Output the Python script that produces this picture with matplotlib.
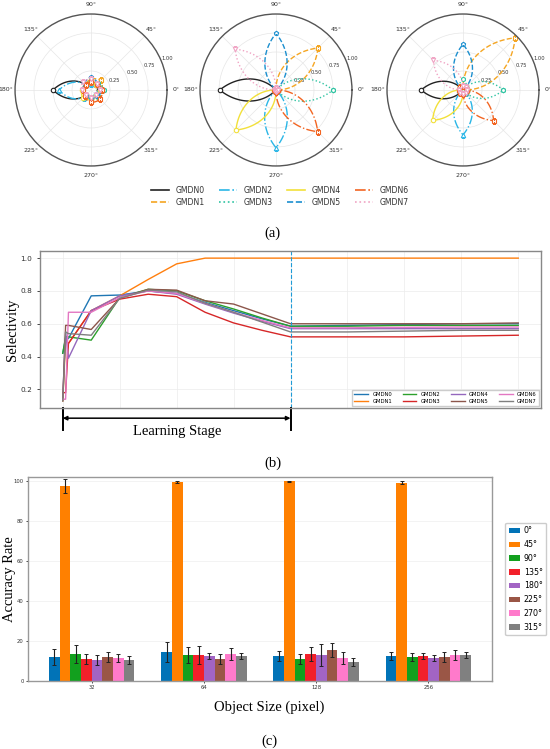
import numpy as np
import matplotlib
matplotlib.use('Agg')
import matplotlib.pyplot as plt
import matplotlib.transforms as mtransforms

# ---------------- data ----------------
names = ['GMDN0', 'GMDN1', 'GMDN2', 'GMDN3', 'GMDN4', 'GMDN5', 'GMDN6', 'GMDN7']

# polar panels (a): response of each GMDN at the 8 directions
directions = [0, 45, 90, 135, 180, 225, 270, 315]
resp_early = [
    [0.10, 0.10, 0.10, 0.10, 0.50, 0.10, 0.10, 0.10],
    [0.14, 0.18, 0.14, 0.10, 0.10, 0.10, 0.12, 0.14],
    [0.10, 0.12, 0.08, 0.10, 0.42, 0.14, 0.10, 0.08],
    [0.17, 0.13, 0.12, 0.10, 0.10, 0.10, 0.12, 0.13],
    [0.12, 0.10, 0.10, 0.10, 0.12, 0.15, 0.12, 0.10],
    [0.14, 0.12, 0.17, 0.12, 0.10, 0.10, 0.10, 0.12],
    [0.14, 0.12, 0.10, 0.10, 0.10, 0.12, 0.16, 0.17],
    [0.12, 0.12, 0.14, 0.15, 0.12, 0.10, 0.10, 0.10],
]
resp_mid = [
    [0.02, 0.02, 0.02, 0.02, 0.74, 0.02, 0.02, 0.02],
    [0.02, 0.78, 0.02, 0.02, 0.02, 0.02, 0.02, 0.02],
    [0.02, 0.02, 0.02, 0.02, 0.02, 0.02, 0.76, 0.02],
    [0.75, 0.02, 0.02, 0.02, 0.02, 0.02, 0.02, 0.02],
    [0.02, 0.02, 0.02, 0.02, 0.02, 0.745, 0.02, 0.02],
    [0.02, 0.02, 0.745, 0.02, 0.02, 0.02, 0.02, 0.02],
    [0.02, 0.02, 0.02, 0.02, 0.02, 0.02, 0.02, 0.775],
    [0.02, 0.02, 0.02, 0.76, 0.02, 0.02, 0.02, 0.02],
]
resp_late = [
    [0.05, 0.05, 0.05, 0.05, 0.55, 0.05, 0.05, 0.05],
    [0.05, 0.97, 0.05, 0.05, 0.05, 0.05, 0.05, 0.05],
    [0.05, 0.05, 0.05, 0.05, 0.05, 0.05, 0.59, 0.05],
    [0.53, 0.05, 0.15, 0.05, 0.05, 0.05, 0.05, 0.05],
    [0.05, 0.05, 0.05, 0.05, 0.05, 0.565, 0.05, 0.05],
    [0.05, 0.05, 0.60, 0.05, 0.05, 0.05, 0.05, 0.05],
    [0.05, 0.05, 0.05, 0.05, 0.05, 0.05, 0.05, 0.57],
    [0.05, 0.05, 0.05, 0.55, 0.05, 0.05, 0.05, 0.05],
]
polar_colors = ['#222222', '#f5a623', '#2bb6e6', '#2fc4a2', '#f2e03a',
                '#1b8fcf', '#f26522', '#f0a4c4']
polar_styles = ['-', '--', '-.', ':', '-', '--', '-.', ':']
polar_markers = ['o', 's', '^', 'h', 'o', 'p', 's', 'v']

# selectivity curves (b)
steps = [0, 0.05, 0.1, 0.5, 1.0, 1.5, 2.0, 2.5, 3.0, 3.5, 4.0, 5.0, 6.0, 7.0, 8.0]
sel_gmdn0 = [0.42, 0.51, 0.51, 0.77, 0.775, 0.80, 0.785, 0.73, 0.68, 0.63, 0.585, 0.59, 0.595, 0.60, 0.60]
sel_gmdn1 = [0.13, 0.50, 0.48, 0.68, 0.77, 0.87, 0.965, 1.0, 1.0, 1.0, 1.0, 1.0, 1.0, 1.0, 1.0]
sel_gmdn2 = [0.42, 0.52, 0.52, 0.50, 0.76, 0.81, 0.80, 0.74, 0.69, 0.635, 0.585, 0.585, 0.59, 0.59, 0.59]
sel_gmdn3 = [0.18, 0.18, 0.48, 0.68, 0.75, 0.78, 0.765, 0.67, 0.605, 0.56, 0.52, 0.52, 0.52, 0.525, 0.53]
sel_gmdn4 = [0.15, 0.55, 0.39, 0.68, 0.77, 0.80, 0.78, 0.72, 0.665, 0.615, 0.57, 0.57, 0.57, 0.57, 0.57]
sel_gmdn5 = [0.13, 0.59, 0.59, 0.565, 0.755, 0.81, 0.805, 0.74, 0.72, 0.66, 0.60, 0.60, 0.60, 0.60, 0.605]
sel_gmdn6 = [0.14, 0.14, 0.67, 0.67, 0.76, 0.80, 0.785, 0.725, 0.67, 0.62, 0.575, 0.575, 0.578, 0.58, 0.58]
sel_gmdn7 = [0.13, 0.55, 0.54, 0.53, 0.755, 0.805, 0.795, 0.725, 0.67, 0.61, 0.55, 0.55, 0.555, 0.56, 0.56]
selectivity = [sel_gmdn0, sel_gmdn1, sel_gmdn2, sel_gmdn3,
               sel_gmdn4, sel_gmdn5, sel_gmdn6, sel_gmdn7]
learning_end = 4.0

# accuracy bars (c)
sizes = ['32', '64', '128', '256']
angle_labels = ['0°', '45°', '90°', '135°', '180°', '225°', '270°', '315°']
acc_mean = [
    [12.0, 14.5, 12.5, 12.7],
    [97.6, 99.3, 99.8, 99.2],
    [13.5, 13.0, 11.0, 11.8],
    [11.0, 13.0, 13.5, 12.3],
    [10.5, 12.5, 13.0, 11.7],
    [12.0, 11.0, 15.7, 12.2],
    [11.5, 13.5, 11.5, 12.8],
    [10.5, 12.5, 9.7, 13.0],
]
acc_err = [
    [4.0, 5.0, 2.5, 2.0],
    [3.5, 0.5, 0.2, 0.8],
    [4.5, 4.0, 2.5, 2.0],
    [2.5, 4.5, 3.5, 1.5],
    [2.5, 1.5, 5.5, 1.5],
    [2.5, 2.5, 3.5, 2.5],
    [2.0, 3.0, 3.0, 2.5],
    [2.0, 1.5, 2.0, 1.5],
]
bar_colors = ['#0173b7', '#ff8000', '#12a01e', '#f2202a',
              '#a264c4', '#9a5646', '#ff7acb', '#808080']

serif = 'Liberation Serif'

# ---------------- figure ----------------
fig = plt.figure(figsize=(5.5, 7.49), dpi=100)

# (a) polar panels
polar_lefts = [0.0273, 0.3636, 0.7036]
theta = np.deg2rad(directions + [360])
for left, resp in zip(polar_lefts, [resp_early, resp_mid, resp_late]):
    ax = fig.add_axes([left, 0.7784, 0.2764, 0.2029], projection='polar')
    for k in range(8):
        r = resp[k] + [resp[k][0]]
        line, = ax.plot(theta, r, color=polar_colors[k], ls=polar_styles[k],
                        lw=1.0, marker=polar_markers[k], ms=3.2,
                        mfc='white', mew=0.8, label=names[k])
        # let the polar transform draw the segments as curves
        line.get_path()._interpolation_steps = 40
    ax.set_ylim(0, 1.0)
    ax.set_rticks([0.25, 0.5, 0.75, 1.0])
    ax.set_yticklabels(['0.25', '0.50', '0.75', '1.00'], fontsize=3.7, color='#333333')
    ax.set_thetagrids(directions, [f'{d}°' for d in directions], fontsize=4.5, color='#333333')
    ax.grid(color='#e6e6e6', lw=0.5)
    ax.spines['polar'].set_color('#555555')
    ax.spines['polar'].set_linewidth(1.0)
    ax.tick_params(axis='x', pad=-4)

leg = fig.legend(handles=[plt.Line2D([], [], color=polar_colors[k], ls=polar_styles[k], lw=1.2)
                          for k in range(8)],
                 labels=names, loc='center', bbox_to_anchor=(0.509, 0.738), ncol=4,
                 frameon=False, fontsize=5.6, handlelength=2.3, handletextpad=0.8,
                 columnspacing=1.9, labelspacing=0.35)
for t in leg.get_texts():
    t.set_color('#333333')

fig.text(0.495, 0.689, '(a)', ha='center', va='center', fontsize=10.5, family=serif)

# (b) selectivity
ax2 = fig.add_axes([0.0727, 0.4553, 0.911, 0.2096])
tab = plt.get_cmap('tab10').colors
line_colors = [tab[0], tab[1], tab[2], tab[3], tab[4], tab[5], tab[6], tab[7]]
for k in range(8):
    ax2.plot(steps, selectivity[k], color=line_colors[k], lw=1.0, label=names[k])
ax2.axvline(learning_end, color='#1f9bd7', ls='--', lw=0.8)
ax2.set_xticks(np.arange(0, 9, 1))
ax2.set_xticklabels([])
ax2.tick_params(axis='x', length=0)
ax2.tick_params(axis='y', labelsize=5.3, labelcolor='#333333', length=2, width=0.5)
ax2.set_yticks([0.2, 0.4, 0.6, 0.8, 1.0])
ax2.grid(color='#ececec', lw=0.5)
for s in ax2.spines.values():
    s.set_color('#888888')
    s.set_linewidth(1.0)
ax2.legend(loc='lower right', ncol=4, fontsize=3.8, handlelength=2.6,
           columnspacing=2.0, labelspacing=0.4, borderaxespad=0.4,
           framealpha=1.0, edgecolor='#cccccc', fancybox=False)

blend = mtransforms.blended_transform_factory(ax2.transData, ax2.transAxes)
for xv in [0, learning_end]:
    ax2.plot([xv, xv], [0.0, -0.14], transform=blend, color='k', lw=1.4, clip_on=False)
ax2.annotate('', xy=(learning_end, -0.065), xytext=(0, -0.065), xycoords=blend,
             textcoords=blend,
             arrowprops=dict(arrowstyle='<|-|>', color='k', lw=1.1,
                             mutation_scale=6, shrinkA=0, shrinkB=0))
fig.text(0.322, 0.4235, 'Learning Stage', ha='center', va='center', fontsize=10.5, family=serif)
fig.text(0.497, 0.382, '(b)', ha='center', va='center', fontsize=10.5, family=serif)
fig.text(0.022, 0.5595, 'Selectivity', rotation=90, ha='center', va='center',
         fontsize=10.5, family=serif)

# (c) accuracy
ax3 = fig.add_axes([0.0509, 0.0908, 0.8436, 0.2723])
xpos = np.arange(len(sizes))
width = 0.095
for i in range(8):
    ax3.bar(xpos + (i - 3.5) * width, acc_mean[i], width, yerr=acc_err[i],
            color=bar_colors[i], label=angle_labels[i],
            error_kw=dict(ecolor='#222222', elinewidth=0.8, capsize=1.3, capthick=0.7))
ax3.set_xticks(xpos)
ax3.set_xticklabels(sizes)
ax3.set_ylim(0, 102)
ax3.set_yticks([0, 20, 40, 60, 80, 100])
ax3.tick_params(labelsize=3.8, labelcolor='#333333', length=1.5, width=0.5, pad=1.5)
ax3.yaxis.grid(True, color='#eeeeee', lw=0.5)
ax3.set_axisbelow(True)
for s in ax3.spines.values():
    s.set_color('#999999')
    s.set_linewidth(1.0)
ax3.legend(loc='center left', bbox_to_anchor=(1.02, 0.5), fontsize=5.7,
           handlelength=1.4, handletextpad=0.5, labelspacing=0.6, borderpad=0.45,
           framealpha=1.0, edgecolor='#cccccc', fancybox=True)
fig.text(0.017, 0.227, 'Accuracy Rate', rotation=90, ha='center', va='center',
         fontsize=10.5, family=serif)
fig.text(0.49, 0.056, 'Object Size (pixel)', ha='center', va='center', fontsize=10.5, family=serif)
fig.text(0.49, 0.0107, '(c)', ha='center', va='center', fontsize=10.5, family=serif)

fig.savefig('out.png', dpi=100)
